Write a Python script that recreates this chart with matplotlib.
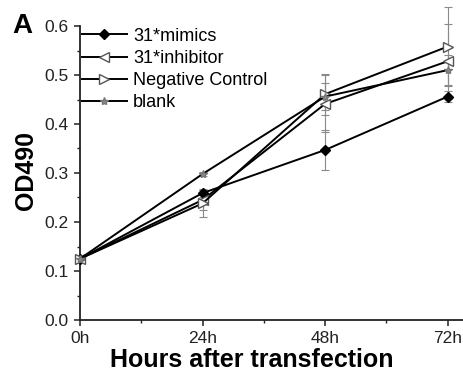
import matplotlib
matplotlib.use('Agg')
import matplotlib.pyplot as plt
from matplotlib.ticker import MultipleLocator

plt.rcParams['font.family'] = ['Liberation Sans', 'DejaVu Sans']

# time points (hours) and tick labels
hours = [0, 24, 48, 72]
tick_labels = ['0h', '24h', '48h', '72h']

# OD490 values
mimics = [0.125, 0.259, 0.347, 0.456]
mimics_err = [0.0, 0.008, 0.040, 0.012]
inhibitor = [0.125, 0.245, 0.441, 0.528]
inhibitor_err = [0.0, 0.020, 0.058, 0.076]
neg_control = [0.125, 0.238, 0.461, 0.558]
neg_control_err = [0.0, 0.028, 0.042, 0.080]
blank = [0.125, 0.298, 0.456, 0.510]
blank_err = [0.0, 0.004, 0.028, 0.030]

fig = plt.figure(figsize=(4.63, 3.77), dpi=100)
ax = fig.add_axes([80 / 463, 57 / 377, 383 / 463, 294 / 377])

series = [
    ('31*mimics', mimics, mimics_err, 'D', 'black', 'black', 5),
    ('31*inhibitor', inhibitor, inhibitor_err, '<', 'white', '#555555', 7),
    ('Negative Control', neg_control, neg_control_err, '>', 'white', '#555555', 7),
    ('blank', blank, blank_err, '*', '#888888', '#777777', 6),
]

for label, vals, err, mk, fc, ec, ms in series:
    ax.errorbar(hours, vals, yerr=err, fmt='none', ecolor='#8a8a8a',
                elinewidth=0.8, capsize=3, capthick=0.8, clip_on=False, zorder=2)
    ax.plot(hours, vals, color='black', lw=1.4, marker=mk, markersize=ms,
            markerfacecolor=fc, markeredgecolor=ec, markeredgewidth=1.0,
            label=label, clip_on=False, zorder=3)

ax.set_xlim(0, 75)
ax.set_ylim(0, 0.6)
ax.set_xticks(hours)
ax.set_xticklabels(tick_labels)
ax.xaxis.set_minor_locator(MultipleLocator(12))
ax.yaxis.set_major_locator(MultipleLocator(0.1))
ax.yaxis.set_minor_locator(MultipleLocator(0.05))
ax.yaxis.set_major_formatter(matplotlib.ticker.FormatStrFormatter('%.1f'))

for side in ['top', 'right']:
    ax.spines[side].set_visible(False)
for side in ['left', 'bottom']:
    ax.spines[side].set_linewidth(1.3)
    ax.spines[side].set_color('#222222')

ax.tick_params(which='major', direction='out', length=4, width=1.1,
               labelsize=12.5, pad=4, colors='#222222')
ax.tick_params(which='minor', direction='out', length=2.5, width=1.0,
               colors='#222222')

ax.legend(loc='upper left', frameon=False, fontsize=13, handlelength=2.5,
          handletextpad=0.35, labelspacing=0.28, borderaxespad=0,
          borderpad=0.1)

fig.text(252 / 463, 1 - 360 / 377, 'Hours after transfection',
         ha='center', va='center', fontsize=18, fontweight='bold')
fig.text(26 / 463, 1 - 171 / 377, 'OD490', rotation=90,
         ha='center', va='center', fontsize=18, fontweight='bold')
fig.text(12 / 463, 1 - 33 / 377, 'A', ha='left', va='baseline',
         fontsize=20, fontweight='bold')

fig.savefig('out.png', dpi=100)
